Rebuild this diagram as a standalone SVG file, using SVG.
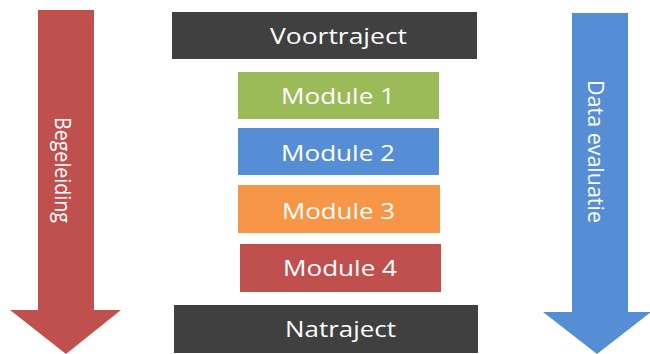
<svg xmlns="http://www.w3.org/2000/svg" width="650" height="354" viewBox="0 0 650 354">
<style>
.lbl{font-family:"Open Sans","Liberation Sans",sans-serif;font-size:22px;fill:#fff}
.vl{font-family:"Open Sans","Liberation Sans",sans-serif;font-size:21px;fill:#fff}
</style>
<rect width="650" height="354" fill="#fff"/>
<g id="begeleiding">
<polygon points="38,10 94,10 94,310 121,310 66,354 10,310 38,310" fill="#C0504D"/>
<text class="vl" transform="translate(55,117) rotate(90)" textLength="106" lengthAdjust="spacingAndGlyphs">Begeleiding</text>
</g>
<g id="data-evaluatie">
<polygon points="572,13 628,13 628,312 651,312 597,354 543,312 572,312" fill="#558ED5"/>
<text class="vl" transform="translate(588,80) rotate(90)" textLength="143" lengthAdjust="spacingAndGlyphs">Data evaluatie</text>
</g>
<g id="voortraject">
<rect x="172" y="12" width="305" height="47" fill="#404040"/>
<text class="lbl" x="270" y="44" textLength="137" lengthAdjust="spacingAndGlyphs">Voortraject</text>
</g>
<g id="module1">
<rect x="238" y="72" width="201" height="47" fill="#9BBB59"/>
<text class="lbl" x="281" y="104" textLength="114" lengthAdjust="spacingAndGlyphs">Module 1</text>
</g>
<g id="module2">
<rect x="238" y="128" width="201" height="47" fill="#558ED5"/>
<text class="lbl" x="281" y="161" textLength="114" lengthAdjust="spacingAndGlyphs">Module 2</text>
</g>
<g id="module3">
<rect x="238" y="185" width="202" height="48" fill="#F79646"/>
<text class="lbl" x="282" y="219" textLength="113" lengthAdjust="spacingAndGlyphs">Module 3</text>
</g>
<g id="module4">
<rect x="240" y="244" width="201" height="48" fill="#C0504D"/>
<text class="lbl" x="283" y="276" textLength="114" lengthAdjust="spacingAndGlyphs">Module 4</text>
</g>
<g id="natraject">
<rect x="174" y="305" width="304" height="48" fill="#404040"/>
<text class="lbl" x="285" y="337" textLength="111" lengthAdjust="spacingAndGlyphs">Natraject</text>
</g>
<g id="connectors"></g>
</svg>
